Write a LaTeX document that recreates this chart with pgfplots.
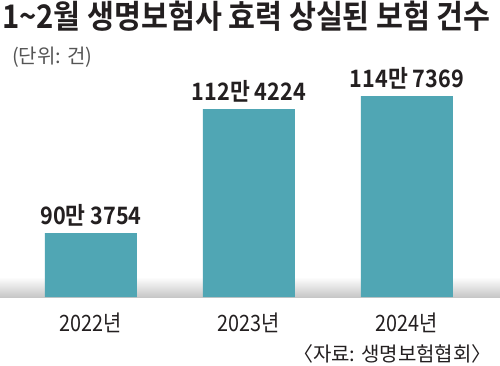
\documentclass[border=0pt]{standalone}
\usepackage{fontspec}
\usepackage{pgfplots}
\pgfplotsset{compat=1.18}
\setmainfont{Noto Sans CJK KR}
\newfontfamily\condreg[FakeStretch=0.88]{Noto Sans CJK KR}
\newfontfamily\condbold[FakeStretch=0.9]{Noto Sans CJK KR Bold}
\newfontfamily\titlefont[FakeStretch=0.9]{Noto Sans CJK KR Bold}
\definecolor{barc}{HTML}{50A6B4}
\definecolor{txt}{HTML}{231F20}
\definecolor{unitc}{HTML}{555555}
\begin{document}
\begin{tikzpicture}
\useasboundingbox (0,0) rectangle (500pt,365pt);
\fill[white] (0,0) rectangle (500pt,365pt);
\begin{axis}[
  at={(0pt,68pt)}, anchor=south west,
  scale only axis, width=500pt, height=237pt,
  xmin=-0.576, xmax=2.589, ymin=790000, ymax=1211700,
  axis line style={draw=none}, major tick length=0pt,
  ytick=\empty, xtick={0,1,2},
  xticklabels={2022년,2023년,2024년},
  xticklabel style={font=\condreg\fontsize{22.5}{24}\selectfont, text=txt, yshift=-12pt},
  ybar, bar width=92pt, bar shift=0pt,
  point meta=explicit symbolic,
  nodes near coords,
  nodes near coords style={font=\condbold\fontsize{24}{26}\selectfont, text=txt, yshift=3pt},
  clip=false,
]
\fill[top color=white, bottom color=black!22, draw=none] (rel axis cs:0,0) rectangle (rel axis cs:1,0.0844);
\addplot[fill=barc, draw=none] coordinates {
  (0,903754) [90만 3754]
  (1,1124224) [112만 4224]
  (2,1147369) [114만 7369]
};
\end{axis}
\node[anchor=west, font=\titlefont\fontsize{32.5}{34}\selectfont, text=txt, inner sep=0pt] at (2pt,349pt) {1\textasciitilde2월 생명보험사 효력 상실된 보험 건수};
\node[anchor=west, font=\fontsize{20}{22}\selectfont, text=unitc, inner sep=0pt] at (12pt,308pt) {(단위: 건)};
\node[anchor=east, font=\fontsize{20}{22}\selectfont, text=txt, inner sep=0pt] at (492pt,11pt) {〈자료: 생명보험협회〉};
\end{tikzpicture}
\end{document}
